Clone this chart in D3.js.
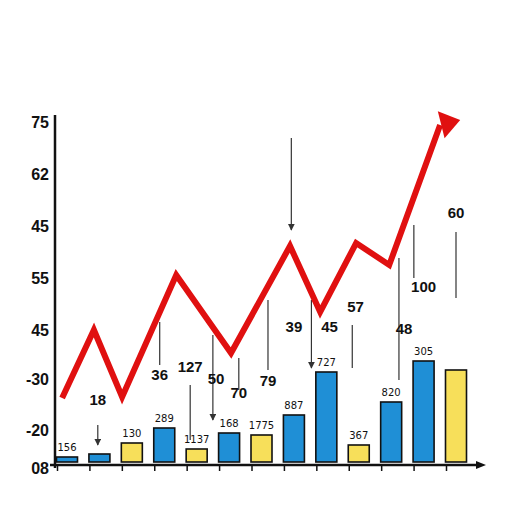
<!DOCTYPE html>
<html><head><meta charset="utf-8">
<script src="https://cdn.jsdelivr.net/npm/d3@7"></script>
<style>body{margin:0;background:#fff}</style></head>
<body><svg id="c" width="512" height="512"></svg>
<script>
const barLabels=["156","","130","289","1137","168","1775","887","727","367","820","305",""];
const barValues=[5,8,19,34,13,29,27,47,90,17,60,101,92];
const barColors=["b","b","y","b","y","b","y","b","b","y","b","b","y"];
const lineIdx=[-0.15,0.83,1.7,3.37,5.06,6.88,7.81,8.92,9.94,11.51,12.13];
const lineVals=[64,132,65,187,109,216,150,219,197,337,342];
const yTickVals=[340,288,236,184,132,83,32,-6];
const yTickLabels=["75","62","45","55","45","-30","-20","08"];
const annText=["18","36","127","50","70","79","39","45","57","48","100","60"];
const annIdx=[0.95,2.86,3.8,4.6,5.3,6.2,7.0,8.1,8.9,10.4,11.0,12.0];
const annVal=[57,82,90,78,64,76,130,130,150,128,170,244];
const leaderIdx=[0.95,2.86,3.8,4.5,5.3,6.2,6.92,7.54,8.8,10.24,10.7,12.0];
const leaderTop=[37,140,77,127,104,162,324,162,137,204,237,230];
const leaderBot=[17,97,22,42,72,92,232,94,94,82,184,164];
const leaderArrow=[1,0,0,1,0,0,1,1,0,0,0,0];

const svg=d3.select("#c");
const defs=svg.append("defs");
defs.append("marker").attr("id","ah").attr("viewBox","0 0 10 10").attr("refX",9).attr("refY",5)
 .attr("markerWidth",6).attr("markerHeight",6).attr("orient","auto")
 .append("path").attr("d","M0,0L10,5L0,10z").attr("fill","#333");
const x=d3.scaleLinear().domain([0,12]).range([67,456]);
const y=d3.scaleLinear().domain([0,350]).range([462,112]);
const ya=svg.append("g").attr("transform","translate(55,0)")
 .call(d3.axisLeft(y).tickValues(yTickVals).tickFormat((d,i)=>yTickLabels[i]).tickSize(0).tickPadding(6));
ya.select(".domain").attr("stroke","#111").attr("stroke-width",2.5).attr("d","M0,115V468");
ya.selectAll("text").attr("font-size",16).attr("font-family","Liberation Sans").attr("fill","#111").attr("font-weight","bold").attr("dy","0.35em");
const xa=svg.append("g").attr("transform","translate(0,465)")
 .call(d3.axisBottom(x).tickValues(d3.range(0,13)).tickFormat("").tickSize(6));
xa.select(".domain").attr("stroke","#111").attr("stroke-width",2.5).attr("d","M50,0H478");
xa.selectAll("line").attr("stroke","#111").attr("stroke-width",1.5).attr("transform","translate(-10,0)");
svg.append("path").attr("d","M476,461L486,465L476,469z").attr("fill","#111");
const bw=21;
svg.selectAll(".bar").data(barValues).join("rect")
 .attr("x",(d,i)=>x(i)-bw/2).attr("y",d=>y(d)).attr("width",bw).attr("height",d=>y(0)-y(d))
 .attr("fill",(d,i)=>barColors[i]=="b"?"#1f8fd6":"#f7df5a").attr("stroke","#111").attr("stroke-width",1.6);
svg.selectAll(".bl").data(barValues).join("text")
 .attr("x",(d,i)=>x(i)).attr("y",d=>y(d)-6).attr("text-anchor","middle")
 .attr("font-size",10).attr("font-family","DejaVu Sans").attr("fill","#111").text((d,i)=>barLabels[i]);
svg.selectAll(".ld").data(leaderIdx).join("line")
 .attr("x1",d=>x(d)).attr("x2",d=>x(d)).attr("y1",(d,i)=>y(leaderTop[i])).attr("y2",(d,i)=>y(leaderBot[i]))
 .attr("stroke","#333").attr("stroke-width",1.2).attr("marker-end",(d,i)=>leaderArrow[i]?"url(#ah)":null);
svg.selectAll(".an").data(annText).join("text")
 .attr("x",(d,i)=>x(annIdx[i])).attr("y",(d,i)=>y(annVal[i])).attr("text-anchor","middle")
 .attr("font-size",15).attr("font-weight","bold").attr("font-family","Liberation Sans").attr("fill","#111").text(d=>d);
const pts=lineIdx.map((d,i)=>[x(d),y(lineVals[i])]);
const body=pts.slice(0,-1);
svg.append("path").attr("d",d3.line()(body)).attr("fill","none").attr("stroke","#e01010")
 .attr("stroke-width",6).attr("stroke-linejoin","miter");
const [a,b]=[pts[pts.length-2],pts[pts.length-1]];
const ang=Math.atan2(b[1]-a[1],b[0]-a[0]);
const s=14;
const hp=[[b[0],b[1]],[b[0]-s*1.4*Math.cos(ang)+s*Math.sin(ang),b[1]-s*1.4*Math.sin(ang)-s*Math.cos(ang)],
 [b[0]-s*1.4*Math.cos(ang)-s*Math.sin(ang),b[1]-s*1.4*Math.sin(ang)+s*Math.cos(ang)]];
svg.append("path").attr("d","M"+hp.join("L")+"Z").attr("fill","#e01010");
</script></body></html>
